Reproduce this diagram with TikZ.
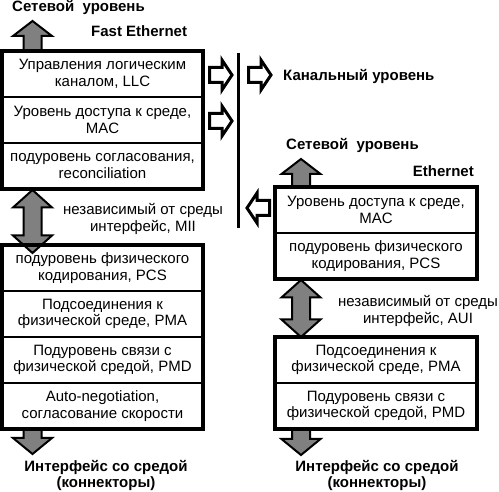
\documentclass[tikz,border=0pt]{standalone}
\usepackage{fontspec}
\setmainfont{Liberation Sans}
\usetikzlibrary{positioning,calc}

% gray block arrows: #1 start point, #2 shaft length
\newcommand{\gup}[2]{\draw[garr] #1 ++(-9,0) -- ++(0,-#2) -- ++(-10.5,0) -- ++(19.5,-15) -- ++(19.5,15) -- ++(-10.5,0) -- ++(0,#2) -- cycle;}
\newcommand{\gdown}[2]{\draw[garr] #1 ++(-9,0) -- ++(0,#2) -- ++(-10.5,0) -- ++(19.5,16) -- ++(19.5,-16) -- ++(-10.5,0) -- ++(0,-#2) -- cycle;}
\newcommand{\gboth}[2]{\draw[garr] #1 -- ++(19.5,17.5) -- ++(-10.5,0) -- ++(0,#2) -- ++(10.5,0) -- ++(-19.5,17.5) -- ++(-19.5,-17.5) -- ++(10.5,0) -- ++(0,-#2) -- ++(-10.5,0) -- cycle;}
% hollow arrows: #1 tail centre
\newcommand{\hright}[1]{\draw[hollow] #1 ++(0,-7.5) -- ++(12.5,0) -- ++(0,-7.5) -- ++(10,15) -- ++(-10,15) -- ++(0,-7.5) -- ++(-12.5,0) -- cycle;}
\newcommand{\hleft}[1]{\draw[hollow] #1 ++(0,-7.5) -- ++(-12.5,0) -- ++(0,-7.5) -- ++(-10,15) -- ++(10,15) -- ++(0,-7.5) -- ++(12.5,0) -- cycle;}

\begin{document}
\begin{tikzpicture}[x=1pt,y=-1pt,
    font=\fontsize{15}{16.5}\selectfont,
    layer/.style={draw,line width=2.5pt,align=center,minimum width=201pt,
                  minimum height=46pt,inner xsep=0pt,outer sep=0pt},
    frame/.style={line width=3.5pt},
    lbl/.style={font=\fontsize{15}{16.5}\selectfont\bfseries,inner sep=0pt},
    note/.style={align=center,inner sep=0pt},
    garr/.style={draw,fill=gray,line width=2pt,line join=miter},
    hollow/.style={draw,fill=white,line width=3pt}]
  \useasboundingbox (0,0) rectangle (499,492);
  % Fast Ethernet
  \node[layer,anchor=north west] (llc) at (2,51) {Управления логическим\\каналом, LLC};
  \node[layer,below=0pt of llc] (mac) {Уровень доступа к среде,\\MAC};
  \node[layer,below=0pt of mac] (rec) {подуровень согласования,\\reconciliation};
  \node[layer,anchor=north west] (pcs) at (2,245) {подуровень физического\\кодирования, PCS};
  \node[layer,below=0pt of pcs] (pma) {Подсоединения к\\физической среде, PMA};
  \node[layer,below=0pt of pma] (pmd) {Подуровень связи с\\физической средой, PMD};
  \node[layer,below=0pt of pmd] (auto) {Auto-negotiation,\\согласование скорости};
  % Ethernet
  \node[layer,anchor=north west,minimum width=202pt] (emac) at (275,187) {Уровень доступа к среде,\\MAC};
  \node[layer,below=0pt of emac,minimum width=202pt] (epcs) {подуровень физического\\кодирования, PCS};
  \node[layer,anchor=north west,minimum width=202pt] (epma) at (275,337) {Подсоединения к\\физической среде, PMA};
  \node[layer,below=0pt of epma,minimum width=202pt] (epmd) {Подуровень связи с\\физической средой, PMD};
  % labels
  \node[lbl,anchor=base west] (net1) at (12,11.5) {Сетевой~~уровень};
  \node[lbl,anchor=base west] (fe) at (91,37) {Fast Ethernet};
  \node[lbl,anchor=base west] (dll) at (283,81) {Канальный уровень};
  \node[lbl,anchor=base west] (net2) at (286,150) {Сетевой~~уровень};
  \node[lbl,anchor=base east] (eth) at (474,177) {Ethernet};
  \node[note] (mii) at (143,219) {независимый от среды\\интерфейс, MII};
  \node[note] (aui) at (418,311) {независимый от среды\\интерфейс, AUI};
  \node[lbl,align=center] (phy1) at (106,475.5) {Интерфейс со средой\\(коннекторы)};
  \node[lbl,align=center] (phy2) at (377,475.5) {Интерфейс со средой\\(коннекторы)};
  % arrows
  \gup{($(llc.north west)+(30.5,0)$)}{15}
  \gboth{($(rec.south west)+(30.5,1)$)}{28}
  \gdown{($(auto.south west)+(30.5,0)$)}{9}
  \gup{($(emac.north west)+(26,0)$)}{13}
  \gboth{($(epcs.south west)+(26,1)$)}{22}
  \gdown{($(epmd.south west)+(26,0)$)}{10}
  \hright{($(llc.east)+(6.5,1)$)}
  \hright{($(mac.east)+(6.5,1)$)}
  \hright{($(llc.east)+(45.5,1)$)}
  \hleft{($(emac.west)+(-5.5,-2)$)}
  \draw[line width=3pt] (238,53) -- (238,228);
  % frames
  \draw[frame] (llc.north west) rectangle (rec.south east);
  \draw[frame] (pcs.north west) rectangle (auto.south east);
  \draw[frame] (emac.north west) rectangle (epcs.south east);
  \draw[frame] (epma.north west) rectangle (epmd.south east);
\end{tikzpicture}
\end{document}
